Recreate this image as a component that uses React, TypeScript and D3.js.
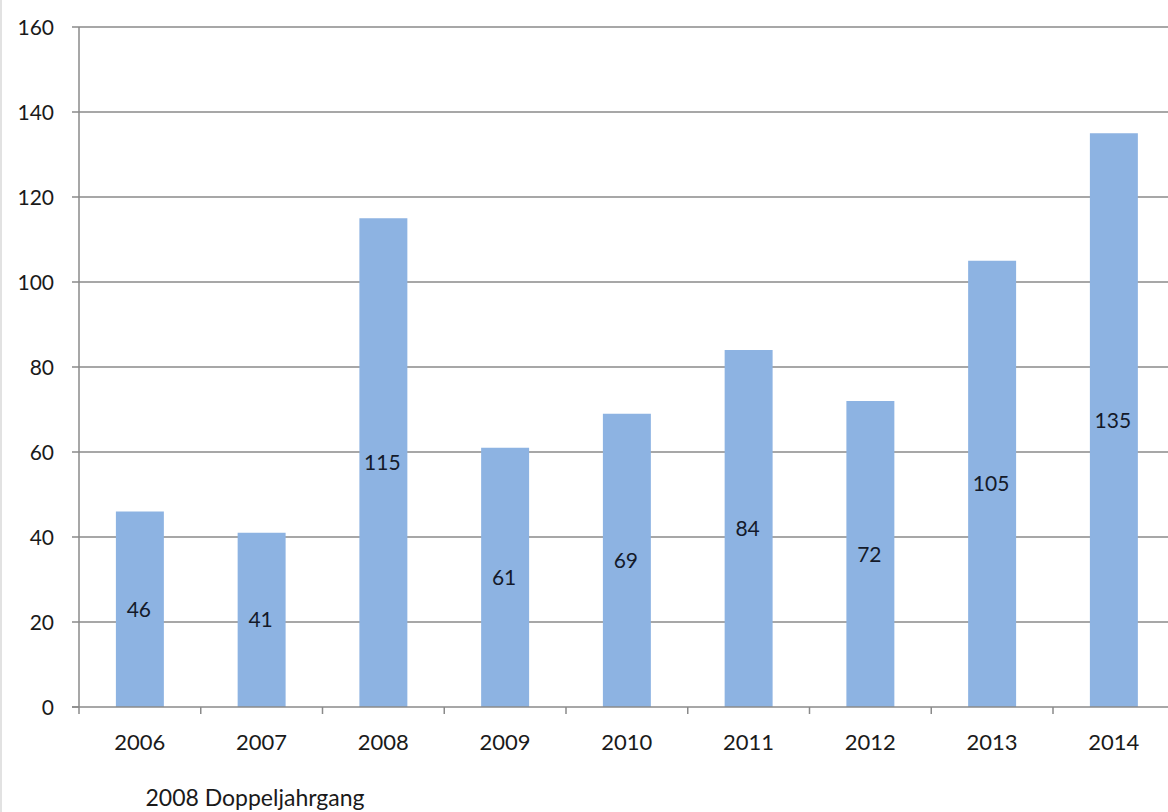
import React from 'react';
import * as d3 from 'd3';

// Values
const years = ['2006', '2007', '2008', '2009', '2010', '2011', '2012', '2013', '2014'];
const counts = [46, 41, 115, 61, 69, 84, 72, 105, 135];
const yTicks = [0, 20, 40, 60, 80, 100, 120, 140, 160];
const footnote = '2008 Doppeljahrgang';

const W = 1168;
const H = 812;
const margin = { top: 27, left: 79, bottom: 105 };
const step = 121.75;
const font = 'Lato, "Open Sans", sans-serif';

const App: React.FC = () => {
  const plotBottom = H - margin.bottom;
  const plotRight = margin.left + step * years.length;
  const pad = 0.606;

  const x = d3
    .scaleBand<string>()
    .domain(years)
    .range([margin.left, plotRight])
    .paddingInner(pad)
    .paddingOuter(pad / 2);

  const y = d3.scaleLinear().domain([0, 160]).range([plotBottom, margin.top]);

  const bw = x.bandwidth();
  const offset = (x.step() - bw) / 2;
  const boundaries = years.map((d) => (x(d) as number) - offset).concat([plotRight]);

  const axisColor = '#8a8a8a';

  return (
    <svg
      width={W}
      height={H}
      style={{ position: 'absolute', left: 0, top: 0, background: '#fff', display: 'block' }}
    >
      <line x1={1} x2={1} y1={0} y2={H} stroke="#e2e2e2" strokeWidth={2} />

      {/* horizontal gridlines + y ticks */}
      {yTicks.map((t) => (
        <g key={t}>
          {t > 0 && (
            <line
              x1={margin.left}
              x2={plotRight}
              y1={y(t)}
              y2={y(t)}
              stroke={axisColor}
              strokeWidth={1.5}
            />
          )}
          <line x1={margin.left - 7} x2={margin.left} y1={y(t)} y2={y(t)} stroke={axisColor} strokeWidth={1.5} />
          <text
            x={margin.left - 25}
            y={y(t)}
            dy="0.36em"
            textAnchor="end"
            fontFamily={font}
            fontSize={21}
            fill="#1a1a1a"
          >
            {t}
          </text>
        </g>
      ))}

      {/* bars */}
      {years.map((d, i) => (
        <rect
          key={d}
          x={x(d)}
          y={y(counts[i])}
          width={bw}
          height={plotBottom - y(counts[i])}
          fill="#8db3e2"
        />
      ))}

      {/* value labels in the middle of the bars */}
      {years.map((d, i) => (
        <text
          key={d}
          x={(x(d) as number) + bw / 2 - 1}
          y={y(counts[i] / 2)}
          dy="0.36em"
          textAnchor="middle"
          fontFamily={font}
          fontSize={21}
          fill="#141a2a"
        >
          {counts[i]}
        </text>
      ))}

      {/* axes */}
      <line x1={margin.left} x2={margin.left} y1={margin.top} y2={plotBottom} stroke={axisColor} strokeWidth={1.5} />
      <line x1={margin.left - 7} x2={plotRight} y1={plotBottom} y2={plotBottom} stroke={axisColor} strokeWidth={1.5} />
      {boundaries.map((b, i) => (
        <line key={i} x1={b} x2={b} y1={plotBottom} y2={plotBottom + 7} stroke={axisColor} strokeWidth={1.5} />
      ))}
      {years.map((d) => (
        <text
          key={d}
          x={(x(d) as number) + bw / 2}
          y={plotBottom + 43}
          textAnchor="middle"
          fontFamily={font}
          fontSize={22}
          fill="#1a1a1a"
        >
          {d}
        </text>
      ))}

      <text x={255} y={806} textAnchor="middle" fontFamily={font} fontSize={23} fill="#1a1a1a">
        {footnote}
      </text>
    </svg>
  );
};

export default App;
